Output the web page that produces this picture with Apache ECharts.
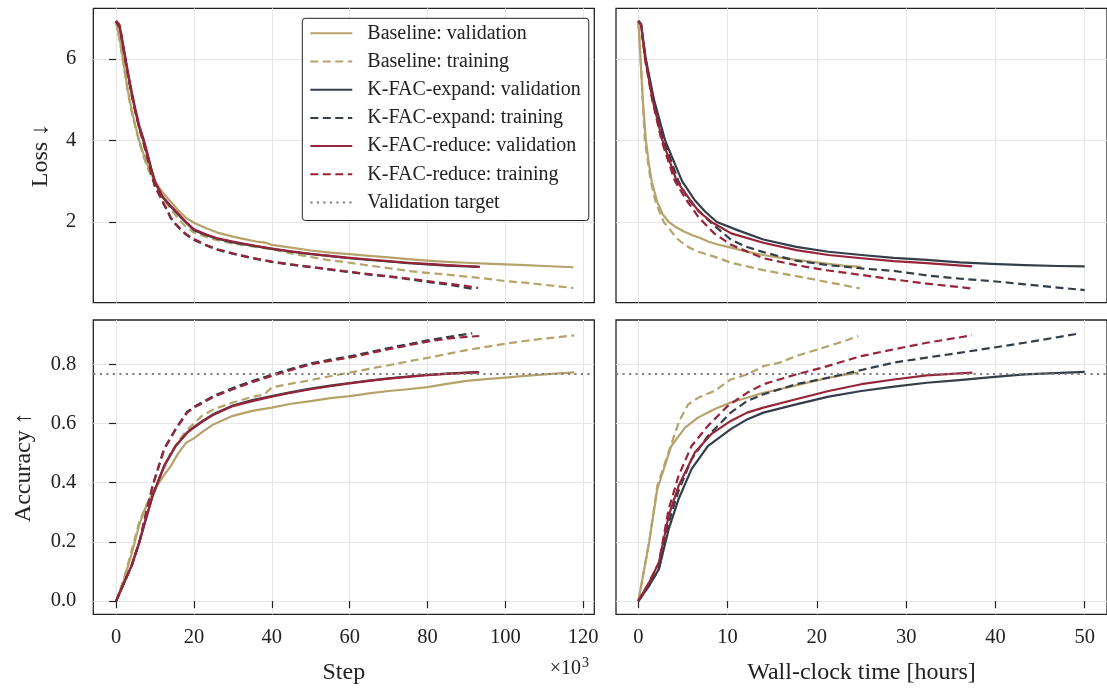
<!DOCTYPE html>
<html><head><meta charset="utf-8">
<script src="https://cdn.jsdelivr.net/npm/echarts@6/dist/echarts.min.js"></script>
<style>html,body{margin:0;padding:0;background:#fff}#c{width:1107px;height:688px}</style>
</head><body><div id="c"></div><script>
// ---- tick labels ----
const lossTicks = [2, 4, 6];
const accTicks = [0, 0.2, 0.4, 0.6, 0.8];
const stepTicks = [0, 20, 40, 60, 80, 100, 120];
const hourTicks = [0, 10, 20, 30, 40, 50];
const validationTarget = 0.772;

const seriesNames = ['Baseline: validation','Baseline: training','K-FAC-expand: validation','K-FAC-expand: training','K-FAC-reduce: validation','K-FAC-reduce: training','Validation target'];

// ---- Loss vs step (x in 10^3 steps) ----
const baseValLossStep = [[0,6.92],[1,6.45],[2,5.85],[3,5.25],[4,4.75],[5,4.35],[6,3.98],[7,3.68],[8,3.42],[9,3.18],[10,2.98],[12,2.72],[14,2.5],[16,2.28],[18,2.1],[20,1.98],[23,1.85],[26,1.74],[30,1.64],[33,1.58],[36,1.52],[38,1.5],[40,1.44],[45,1.37],[50,1.3],[55,1.25],[60,1.21],[65,1.17],[70,1.13],[75,1.09],[80,1.05],[85,1.02],[90,1.0],[95,0.98],[100,0.96],[105,0.94],[110,0.92],[117.5,0.89]];
const baseTrainLossStep = [[0,6.92],[1,6.4],[2,5.8],[3,5.2],[4,4.7],[5,4.3],[6,3.95],[7,3.62],[8,3.35],[9,3.12],[10,2.92],[12,2.6],[14,2.32],[16,2.08],[18,1.88],[20,1.74],[23,1.64],[25,1.58],[30,1.47],[35,1.4],[40,1.33],[45,1.23],[50,1.14],[55,1.06],[60,1.0],[65,0.93],[70,0.87],[75,0.8],[80,0.75],[85,0.71],[90,0.66],[95,0.61],[100,0.55],[105,0.51],[110,0.46],[117.5,0.38]];
const expValLossStep = [[0,6.92],[1,6.75],[2,6.2],[3,5.65],[4,5.15],[5,4.7],[6,4.3],[7,4.0],[8,3.65],[9,3.3],[10,2.98],[11,2.78],[12,2.6],[14,2.38],[16,2.18],[18,1.98],[20,1.8],[23,1.68],[26,1.59],[30,1.5],[35,1.42],[40,1.34],[45,1.27],[50,1.21],[55,1.16],[60,1.11],[65,1.07],[70,1.03],[75,0.99],[80,0.96],[85,0.93],[90,0.91],[93,0.9]];
const expTrainLossStep = [[0,6.92],[1,6.78],[2,6.18],[3,5.62],[4,5.12],[5,4.68],[6,4.28],[7,3.96],[8,3.58],[9,3.2],[10,2.86],[11,2.68],[12,2.48],[13,2.3],[14,2.1],[15,1.97],[16,1.87],[17,1.77],[18,1.69],[20,1.56],[23,1.43],[26,1.32],[30,1.22],[35,1.11],[40,1.02],[45,0.95],[50,0.89],[55,0.83],[60,0.77],[65,0.71],[70,0.66],[75,0.6],[80,0.53],[85,0.47],[91.5,0.36]];
const redValLossStep = [[0,6.93],[0.8,6.85],[2,6.25],[3,5.7],[4,5.2],[5,4.75],[6,4.35],[7,4.05],[8,3.7],[9,3.33],[10,3.0],[11,2.8],[12,2.62],[14,2.4],[16,2.2],[18,2.0],[20,1.82],[23,1.7],[26,1.6],[30,1.52],[35,1.43],[40,1.35],[45,1.28],[50,1.22],[55,1.17],[60,1.12],[65,1.08],[70,1.04],[75,1.0],[80,0.97],[85,0.94],[90,0.92],[93.5,0.9]];
const redTrainLossStep = [[0,6.93],[1,6.8],[2,6.2],[3,5.65],[4,5.15],[5,4.7],[6,4.3],[7,3.98],[8,3.6],[9,3.22],[10,2.88],[11,2.7],[12,2.5],[13,2.32],[14,2.12],[15,1.98],[16,1.88],[17,1.78],[18,1.7],[20,1.58],[23,1.44],[26,1.33],[30,1.23],[35,1.12],[40,1.03],[45,0.96],[50,0.9],[55,0.84],[60,0.78],[65,0.72],[70,0.67],[75,0.61],[80,0.55],[85,0.49],[90,0.43],[93,0.38]];

// ---- Loss vs wall-clock hours ----
const baseValLossTime = [[0,6.93],[0.25,6.0],[0.5,5.0],[0.85,4.0],[1.2,3.4],[1.5,3.0],[2.1,2.5],[2.7,2.2],[3.4,2.0],[4.1,1.89],[5,1.78],[6,1.68],[7,1.6],[7.8,1.52],[9,1.44],[10.4,1.37],[12,1.28],[14,1.19],[16,1.12],[17.7,1.07],[19.5,1.02],[21.3,0.97],[23,0.93],[25,0.9]];
const baseTrainLossTime = [[0,6.93],[0.25,6.0],[0.5,5.0],[0.73,4.0],[1.4,3.0],[2.0,2.45],[2.85,2.0],[3.6,1.8],[4.2,1.62],[4.9,1.49],[5.8,1.36],[6.7,1.27],[8.5,1.15],[10.4,1.0],[12,0.92],[14,0.82],[16,0.74],[17.7,0.67],[19.5,0.6],[21.3,0.52],[23,0.45],[24.8,0.37]];
const expValLossTime = [[0,6.93],[0.3,6.85],[0.84,6.0],[1.75,5.0],[3.0,4.0],[4.9,3.0],[6.3,2.54],[7.5,2.25],[8.8,2.0],[11.1,1.8],[14,1.57],[17.7,1.39],[21.3,1.27],[25,1.19],[28.6,1.12],[32.3,1.07],[36,1.01],[39.6,0.97],[43.3,0.94],[47,0.92],[50,0.91]];
const expTrainLossTime = [[0,6.93],[0.3,6.85],[0.8,6.0],[1.7,5.0],[2.85,4.0],[4.5,3.0],[5.6,2.55],[6.7,2.29],[8.3,1.95],[10.4,1.56],[12,1.4],[14,1.26],[17.7,1.05],[21.3,0.94],[25,0.86],[28.6,0.8],[32.3,0.69],[36,0.61],[39.6,0.55],[43.3,0.47],[47,0.39],[50,0.33]];
const redValLossTime = [[0,6.93],[0.3,6.85],[0.77,6.0],[1.6,5.0],[2.7,4.0],[4.3,3.0],[5.8,2.54],[6.8,2.25],[8.2,2.0],[10.4,1.72],[14,1.49],[17.7,1.31],[21.3,1.19],[25,1.11],[28.6,1.04],[32.3,0.99],[35,0.95],[37.4,0.91]];
const redTrainLossTime = [[0,6.93],[0.3,6.85],[0.75,6.0],[1.55,5.0],[2.6,4.0],[4.1,3.0],[5.5,2.5],[6.7,2.13],[8.5,1.72],[10.4,1.44],[14,1.11],[17.7,0.94],[21.3,0.81],[25,0.7],[28.6,0.59],[32.3,0.49],[37.3,0.37]];

// ---- Accuracy vs step ----
const baseValAccStep = [[0,0],[2,0.07],[4,0.16],[6,0.26],[8,0.33],[10,0.38],[12,0.42],[14,0.455],[16,0.5],[18,0.535],[20,0.55],[22,0.57],[25,0.597],[30,0.626],[35,0.643],[40,0.654],[45,0.667],[50,0.676],[55,0.686],[60,0.693],[65,0.702],[70,0.71],[75,0.716],[80,0.723],[85,0.734],[90,0.744],[95,0.75],[100,0.755],[105,0.761],[110,0.766],[117.7,0.773]];
const baseTrainAccStep = [[0,0],[2,0.075],[4,0.17],[6,0.27],[8,0.33],[10,0.385],[12,0.44],[14,0.5],[16,0.54],[18,0.575],[20,0.6],[22,0.625],[25,0.648],[30,0.671],[35,0.69],[38,0.698],[40,0.722],[45,0.735],[50,0.747],[55,0.76],[60,0.772],[65,0.785],[70,0.797],[75,0.81],[80,0.822],[85,0.835],[90,0.848],[95,0.859],[100,0.87],[105,0.879],[110,0.887],[117.7,0.898]];
const expValAccStep = [[0,0],[2,0.06],[4,0.12],[6,0.2],[7.4,0.266],[9.4,0.356],[12.35,0.457],[15.3,0.524],[18.27,0.57],[20,0.588],[22,0.607],[25.2,0.633],[30,0.661],[35,0.679],[40,0.693],[45,0.706],[50,0.718],[55,0.728],[60,0.737],[65,0.745],[70,0.753],[75,0.759],[80,0.765],[85,0.769],[90,0.772],[93,0.774]];
const expTrainAccStep = [[0,0],[2,0.06],[4,0.12],[6,0.2],[7.4,0.28],[9.4,0.39],[12.35,0.515],[15.3,0.582],[18.27,0.64],[20,0.656],[22,0.671],[25.2,0.694],[30,0.72],[35,0.744],[40,0.765],[45,0.785],[50,0.803],[55,0.816],[60,0.827],[65,0.841],[70,0.855],[75,0.868],[80,0.881],[85,0.892],[91.5,0.905]];
const redValAccStep = [[0,0],[2,0.06],[4,0.12],[6,0.2],[7.4,0.266],[9.4,0.356],[12.35,0.457],[15.3,0.524],[18.27,0.569],[20,0.586],[22,0.605],[25.2,0.631],[30,0.659],[35,0.676],[40,0.691],[45,0.704],[50,0.716],[55,0.726],[60,0.736],[65,0.744],[70,0.752],[75,0.758],[80,0.764],[85,0.768],[90,0.771],[93.3,0.773]];
const redTrainAccStep = [[0,0],[2,0.06],[4,0.12],[6,0.2],[7.4,0.28],[9.4,0.39],[12.35,0.513],[15.3,0.58],[18.27,0.637],[20,0.654],[22,0.668],[25.2,0.691],[30,0.716],[35,0.74],[40,0.761],[45,0.781],[50,0.8],[55,0.812],[60,0.823],[65,0.837],[70,0.851],[75,0.864],[80,0.877],[85,0.887],[90,0.893],[93.3,0.896]];

// ---- Accuracy vs wall-clock hours ----
const baseValAccTime = [[0,0],[1.21,0.198],[2.12,0.378],[3.69,0.524],[5.23,0.586],[6.69,0.62],[8.52,0.648],[10.35,0.671],[12.18,0.687],[14.01,0.704],[15.84,0.716],[17.67,0.729],[19.5,0.742],[21.32,0.755],[23,0.764],[24.62,0.772]];
const baseTrainAccTime = [[0,0],[1.21,0.198],[2.12,0.389],[3.69,0.53],[4.6,0.61],[5.6,0.665],[6.69,0.687],[8.52,0.71],[10.35,0.749],[12.18,0.766],[14.01,0.794],[15.84,0.806],[17.67,0.828],[19.5,0.845],[21.32,0.862],[23,0.878],[24.62,0.896]];
const expValAccTime = [[0,0],[1.21,0.052],[2.3,0.108],[3.4,0.243],[4.5,0.344],[5.96,0.446],[7.79,0.524],[10.35,0.581],[12.18,0.614],[14.01,0.637],[17.67,0.665],[21.32,0.691],[24.98,0.71],[28.64,0.725],[32.3,0.738],[35.95,0.747],[39.61,0.757],[43.27,0.766],[50,0.775]];
const expTrainAccTime = [[0,0],[1.21,0.052],[2.3,0.108],[3.4,0.266],[4.5,0.372],[5.96,0.479],[7.79,0.558],[10.35,0.637],[12.18,0.676],[14.01,0.699],[17.67,0.733],[21.32,0.755],[24.98,0.781],[28.64,0.806],[32.3,0.823],[35.95,0.839],[39.61,0.856],[43.27,0.873],[49.49,0.905]];
const redValAccTime = [[0,0],[1.21,0.063],[2.3,0.13],[3.4,0.288],[4.5,0.389],[6.33,0.502],[8.16,0.564],[10.35,0.609],[12.18,0.637],[14.01,0.654],[17.67,0.682],[21.32,0.71],[24.98,0.733],[28.64,0.749],[32.3,0.763],[37.42,0.772]];
const redTrainAccTime = [[0,0],[1.21,0.063],[2.3,0.13],[3.4,0.31],[4.5,0.423],[5.96,0.524],[7.79,0.592],[9.99,0.659],[12.18,0.704],[14.01,0.733],[17.67,0.766],[20.59,0.789],[24.98,0.828],[28.64,0.851],[32.3,0.873],[37.34,0.898]];

// ---- styling ----
const FONT = 'Liberation Serif';
const INK = '#222222';
const C_BASE = '#b5a36b', C_EXP = '#343e48', C_RED = '#96253a', C_TGT = '#808080';
const DASH = [8, 4.5], DOT = [2.2, 4.3];

const chart = echarts.init(document.getElementById('c'), null, {renderer: 'canvas'});

const gridW = 501, gridH = 294.4;
const grids = [
  {left: 93.3, top: 8.3, width: gridW, height: gridH},
  {left: 616, top: 8.3, width: gridW, height: gridH},
  {left: 93.3, top: 320, width: gridW, height: gridH},
  {left: 616, top: 320, width: gridW, height: gridH}
].map(g => Object.assign(g, {show: true, borderColor: INK, borderWidth: 1.3, backgroundColor: 'transparent', containLabel: false}));

function xAx(i, min, max, ticks, showTicks, name) {
  return {
    type: 'value', gridIndex: i, min: min, max: max,
    axisLine: {show: false},
    axisTick: {show: showTicks, customValues: ticks, length: 7, lineStyle: {color: INK, width: 1.2}},
    axisLabel: {show: showTicks, customValues: ticks, fontFamily: FONT, fontSize: 20.5, color: INK, margin: 13},
    splitLine: {show: true, lineStyle: {color: '#e6e6e6', width: 1}},
    name: name || '', nameLocation: 'middle', nameGap: 46,
    nameTextStyle: {fontFamily: FONT, fontSize: 24, color: INK}
  };
}
function yAx(i, min, max, ticks, showTicks, name, gap, fmt) {
  return {
    type: 'value', gridIndex: i, min: min, max: max,
    axisLine: {show: false},
    axisTick: {show: showTicks, customValues: ticks, length: 7, lineStyle: {color: INK, width: 1.2}},
    axisLabel: {show: showTicks, customValues: ticks, fontFamily: FONT, fontSize: 20.5, color: INK, margin: 17, formatter: fmt},
    splitLine: {show: true, lineStyle: {color: '#e6e6e6', width: 1}},
    name: name || '', nameLocation: 'middle', nameGap: gap || 40, nameRotate: 90,
    nameTextStyle: {fontFamily: FONT, fontSize: 24, color: INK}
  };
}

function line(name, data, gi, color, dashed) {
  return {
    name: name, type: 'line', xAxisIndex: gi, yAxisIndex: gi, data: data,
    symbol: 'none', showSymbol: false, smooth: false, clip: true, silent: true,
    lineStyle: {color: color, width: 2.2, type: dashed ? DASH : 'solid', join: 'round', cap: 'butt'},
    itemStyle: {color: color}
  };
}
function target(gi) {
  return {
    name: 'Validation target', type: 'line', xAxisIndex: gi, yAxisIndex: gi, data: [],
    symbol: 'none', silent: true,
    lineStyle: {color: C_TGT, width: 2.2, type: DOT}, itemStyle: {color: C_TGT},
    markLine: {silent: true, symbol: ['none', 'none'], label: {show: false},
      lineStyle: {color: C_TGT, width: 2.2, type: DOT}, data: [{yAxis: validationTarget}]}
  };
}

const panels = [
  [baseValLossStep, baseTrainLossStep, expValLossStep, expTrainLossStep, redValLossStep, redTrainLossStep],
  [baseValLossTime, baseTrainLossTime, expValLossTime, expTrainLossTime, redValLossTime, redTrainLossTime],
  [baseValAccStep, baseTrainAccStep, expValAccStep, expTrainAccStep, redValAccStep, redTrainAccStep],
  [baseValAccTime, baseTrainAccTime, expValAccTime, expTrainAccTime, redValAccTime, redTrainAccTime]
];
const colors = [C_BASE, C_BASE, C_EXP, C_EXP, C_RED, C_RED];
const series = [];
panels.forEach((p, gi) => {
  p.forEach((d, k) => series.push(line(seriesNames[k], d, gi, colors[k], k % 2 === 1)));
  if (gi >= 2) series.push(target(gi));
});

chart.setOption({
  animation: false,
  backgroundColor: '#ffffff',
  grid: grids,
  xAxis: [
    xAx(0, -5.85, 122.85, stepTicks, false),
    xAx(1, -2.5, 52.5, hourTicks, false),
    xAx(2, -5.85, 122.85, stepTicks, true, 'Step'),
    xAx(3, -2.5, 52.5, hourTicks, true, 'Wall-clock time [hours]')
  ],
  yAxis: [
    yAx(0, 0.02, 7.24, lossTicks, true, 'Loss ↓', 41, v => String(v)),
    yAx(1, 0.02, 7.24, lossTicks, false),
    yAx(2, -0.045, 0.95, accTicks, true, 'Accuracy ↑', 58, v => v.toFixed(1)),
    yAx(3, -0.045, 0.95, accTicks, false)
  ],
  legend: {
    data: seriesNames, orient: 'vertical', left: 302.3, top: 18.3,
    itemWidth: 42, itemHeight: 20, itemGap: 8.2, padding: [5, 8, 8, 7],
    borderColor: INK, borderWidth: 1, borderRadius: 3, backgroundColor: '#ffffff',
    selectedMode: false,
    itemStyle: {opacity: 0, color: 'transparent', borderWidth: 0},
    textStyle: {fontFamily: FONT, fontSize: 20, color: INK, padding: [0, 0, 0, 10]}
  },
  graphic: [
    {type: 'text', x: 581, y: 669, silent: true,
      style: {text: '×10', fontFamily: FONT, fontSize: 20, fill: INK, textAlign: 'right', textVerticalAlign: 'middle'}},
    {type: 'text', x: 582, y: 663, silent: true,
      style: {text: '3', fontFamily: FONT, fontSize: 14, fill: INK, textAlign: 'left', textVerticalAlign: 'middle'}}
  ],
  series: series
});
</script></body></html>
